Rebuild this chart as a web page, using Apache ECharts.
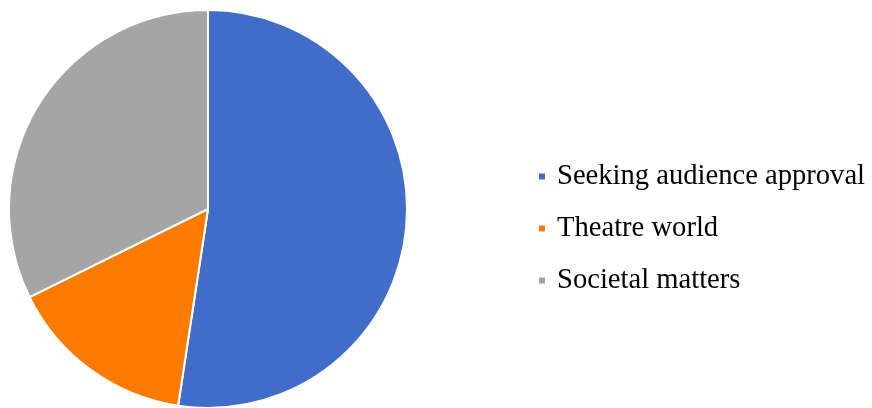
<!DOCTYPE html>
<html><head><meta charset="utf-8">
<script src="https://cdn.jsdelivr.net/npm/echarts@6/dist/echarts.min.js"></script>
<style>html,body{margin:0;padding:0;background:#fff}#c{width:872px;height:408px}</style>
</head><body><div id="c"></div>
<script>
const categories = ['Seeking audience approval', 'Theatre world', 'Societal matters'];
const values = [52.4, 15.3, 32.3];
const colors = ['#416CC9', '#FD7A00', '#A5A5A5'];

const chart = echarts.init(document.getElementById('c'), null, {renderer: 'canvas'});
chart.setOption({
  animation: false,
  color: colors,
  legend: {
    orient: 'vertical',
    left: 537,
    top: 162,
    padding: 0,
    icon: 'rect',
    itemWidth: 8,
    itemHeight: 8,
    itemGap: 23,
    data: categories,
    textStyle: {fontFamily: 'Liberation Serif', fontSize: 28.6, lineHeight: 28, color: '#000', padding: [0, 0, 0, 6]}
  },
  series: [{
    type: 'pie',
    center: [208, 209],
    radius: 199,
    startAngle: 90,
    clockwise: true,
    label: {show: false},
    labelLine: {show: false},
    itemStyle: {borderColor: '#fff', borderWidth: 2},
    emphasis: {disabled: true},
    data: categories.map((n, i) => ({name: n, value: values[i]}))
  }]
});
</script></body></html>
